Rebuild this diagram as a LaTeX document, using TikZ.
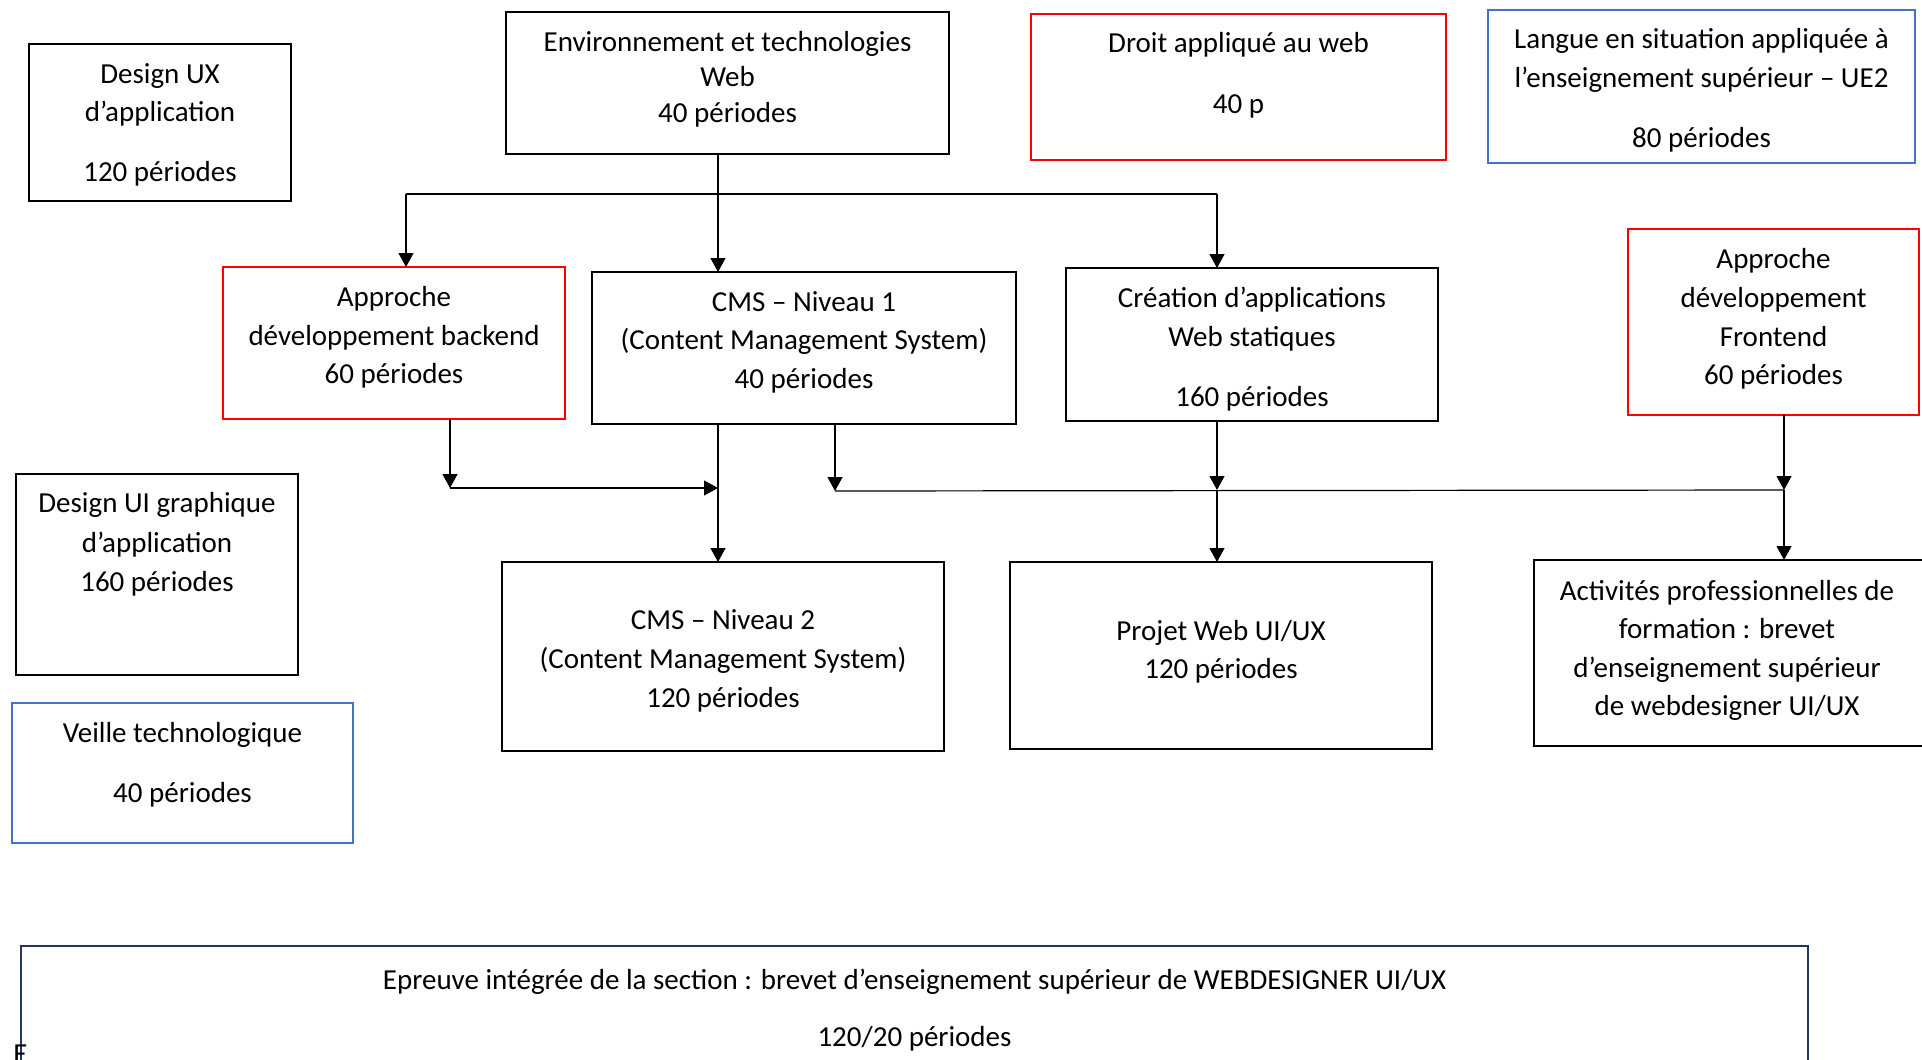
\documentclass[tikz,border=0pt]{standalone}
\usepackage{fontspec}
\setmainfont{Carlito}
\usetikzlibrary{fit,arrows.meta}
\definecolor{bred}{RGB}{255,0,0}
\definecolor{bblue}{RGB}{68,114,196}
\definecolor{bnavy}{RGB}{31,56,100}
\newcommand\tline[4]{\node[txt] (#1) at (#2,#3) {#4};}
\begin{document}
\begin{tikzpicture}[x=0.5pt,y=-0.5pt,
  box/.style={draw, line width=1.4pt, inner sep=0pt, outer sep=0pt},
  kbox/.style={box, draw=black},
  rbox/.style={box, draw=bred},
  bbox/.style={box, draw=bblue},
  nbox/.style={box, draw=bnavy},
  txt/.style={font=\fontsize{14.5}{17}\selectfont, inner sep=0pt, anchor=base},
  conn/.style={line width=0.6pt, draw=black},
  arr/.style={conn, -{Triangle[length=7pt,width=7.5pt]}}]
\useasboundingbox (0,0) rectangle (1922,1060);
\clip (0,0) rectangle (1922,1060);
% boxes
\node[kbox, fit={(29,44)(291,201)}] (ux) {};
\node[kbox, fit={(506,12)(949,154)}] (env) {};
\node[rbox, fit={(1031,14)(1446,160)}] (droit) {};
\node[bbox, fit={(1488,10)(1915,163)}] (langue) {};
\node[rbox, fit={(223,267)(565,419)}] (back) {};
\node[kbox, fit={(592,272)(1016,424)}] (cms1) {};
\node[kbox, fit={(1066,268)(1438,421)}] (crea) {};
\node[rbox, fit={(1628,229)(1919,415)}] (front) {};
\node[kbox, fit={(16,474)(298,675)}] (ui) {};
\node[kbox, fit={(502,562)(944,751)}] (cms2) {};
\node[bbox, fit={(12,703)(353,843)}] (veille) {};
\node[kbox, fit={(1010,562)(1432,749)}] (projet) {};
\node[kbox, fit={(1534,560)(1930,746)}] (activ) {};
\node[nbox, fit={(21,946)(1808,1090)}] (epr) {};
% texts
\tline{ux1}{160}{83}{Design UX}
\tline{ux2}{160}{121}{d’application}
\tline{ux3}{160}{181}{120 périodes}
\tline{env1}{727.5}{51}{Environnement et technologies}
\tline{env2}{727.5}{86}{Web}
\tline{env3}{727.5}{122}{40 périodes}
\tline{dr1}{1238.5}{53}{Droit appliqué au web}
\tline{dr2}{1238.5}{113}{40 p}
\tline{la1}{1701.5}{48}{Langue en situation appliquée à}
\tline{la2}{1701.5}{87}{l’enseignement supérieur – UE2}
\tline{la3}{1701.5}{147}{80 périodes}
\tline{ba1}{394}{306}{Approche}
\tline{ba2}{394}{345}{développement backend}
\tline{ba3}{394}{383}{60 périodes}
\tline{c11}{804}{311}{CMS – Niveau 1}
\tline{c12}{804}{349}{(Content Management System)}
\tline{c13}{804}{388}{40 périodes}
\tline{cr1}{1252}{307}{Création d’applications}
\tline{cr2}{1252}{346}{Web statiques}
\tline{cr3}{1252}{406}{160 périodes}
\tline{fr1}{1773.5}{268}{Approche}
\tline{fr2}{1773.5}{307}{développement}
\tline{fr3}{1773.5}{346}{Frontend}
\tline{fr4}{1773.5}{384}{60 périodes}
\tline{ui1}{157}{512}{Design UI graphique}
\tline{ui2}{157}{552}{d’application}
\tline{ui3}{157}{591}{160 périodes}
\tline{c21}{723}{629}{CMS – Niveau 2}
\tline{c22}{723}{668}{(Content Management System)}
\tline{c23}{723}{707}{120 périodes}
\tline{ve1}{182.5}{742}{Veille technologique}
\tline{ve2}{182.5}{802}{40 périodes}
\tline{pr1}{1221}{640}{Projet Web UI/UX}
\tline{pr2}{1221}{678}{120 périodes}
\tline{ac1}{1727}{600}{Activités professionnelles de}
\tline{ac2}{1727}{638}{formation : brevet}
\tline{ac3}{1727}{677}{d’enseignement supérieur}
\tline{ac4}{1727}{715}{de webdesigner UI/UX}
\tline{ep1}{914.5}{989}{Epreuve intégrée de la section : brevet d’enseignement supérieur de WEBDESIGNER UI/UX}
\tline{ep2}{914.5}{1046}{120/20 périodes}
\node[txt, anchor=base west] (efrag) at (13,1063) {E};
% connectors
\coordinate (x718) at (718,0);
\coordinate (j1) at (406,194);
\coordinate (j2) at (1217,194);
\draw[arr] (x718 |- env.south) -- (x718 |- cms1.north);
\draw[conn] (j1) -- (j2);
\draw[arr] (j1) -- (j1 |- back.north);
\draw[arr] (j2) -- (j2 |- crea.north);
\coordinate (k1) at (450,488);
\draw[arr] (k1 |- back.south) -- (k1);
\draw[arr] (k1) -- (x718 |- k1);
\draw[arr] (x718 |- cms1.south) -- (x718 |- cms2.north);
\coordinate (k2) at (835,491);
\coordinate (k3) at (1217,490);
\coordinate (k4) at (1784,490);
\draw[arr] (k2 |- cms1.south) -- (k2);
\draw[conn] (k2) -- (k4);
\draw[arr] (k3 |- crea.south) -- (k3);
\draw[arr] (k3) -- (k3 |- projet.north);
\draw[arr] (k4 |- front.south) -- (k4);
\draw[arr] (k4) -- (k4 |- activ.north);
\end{tikzpicture}
\end{document}
